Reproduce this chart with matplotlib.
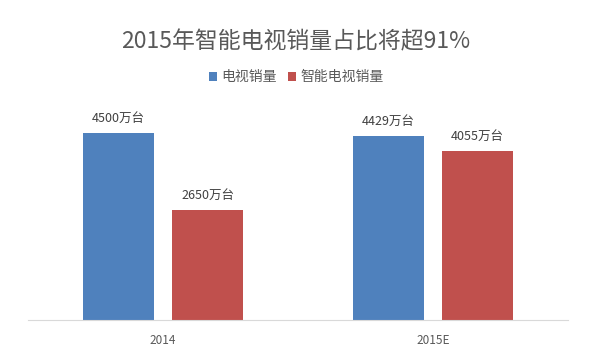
import matplotlib
matplotlib.use("Agg")
from matplotlib import pyplot as plt
import numpy as np

plt.rcParams['font.family'] = ['Noto Sans CJK SC', 'DejaVu Sans']

# data
years = ['2014', '2015E']
tv_sales = [4500, 4429]       # 电视销量 (万台)
smart_sales = [2650, 4055]    # 智能电视销量 (万台)
series_names = ['电视销量', '智能电视销量']

blue = '#4F81BD'
red = '#C0504D'

fig = plt.figure(figsize=(5.92, 3.53), dpi=100)
ax = fig.add_axes([28/592, 33/353, 540/592, 208/353])

x = np.arange(len(years))
w = 0.263
off = 0.165
b1 = ax.bar(x - off, tv_sales, w, color=blue, label=series_names[0])
b2 = ax.bar(x + off, smart_sales, w, color=red, label=series_names[1])

# value labels above bars
for bars, vals in ((b1, tv_sales), (b2, smart_sales)):
    for r, v in zip(bars, vals):
        ax.annotate('{}万台'.format(v), (r.get_x() + r.get_width()/2, v),
                    xytext=(0, 6), textcoords='offset points',
                    ha='center', va='bottom', fontsize=9, color='#404040')

ax.set_xlim(-0.5, 1.5)
ax.set_ylim(0, 5000)
ax.set_xticks(x)
ax.set_xticklabels(years, fontsize=8.5, color='#595959')
ax.set_yticks([])
ax.tick_params(axis='x', length=0, pad=10)
for s in ('top', 'right', 'left'):
    ax.spines[s].set_visible(False)
ax.spines['bottom'].set_color('#D9D9D9')

fig.text(0.5, 1 - 42/353, '2015年智能电视销量占比将超91%', ha='center', va='center',
         fontsize=16.5, color='#595959')
fig.legend(loc='center', bbox_to_anchor=(0.5, 1 - 77/353), ncol=2, frameon=False,
           fontsize=10, handlelength=0.6, handleheight=0.6, handletextpad=0.3,
           columnspacing=0.8, labelcolor='#595959')

fig.savefig('out.png', dpi=100)
